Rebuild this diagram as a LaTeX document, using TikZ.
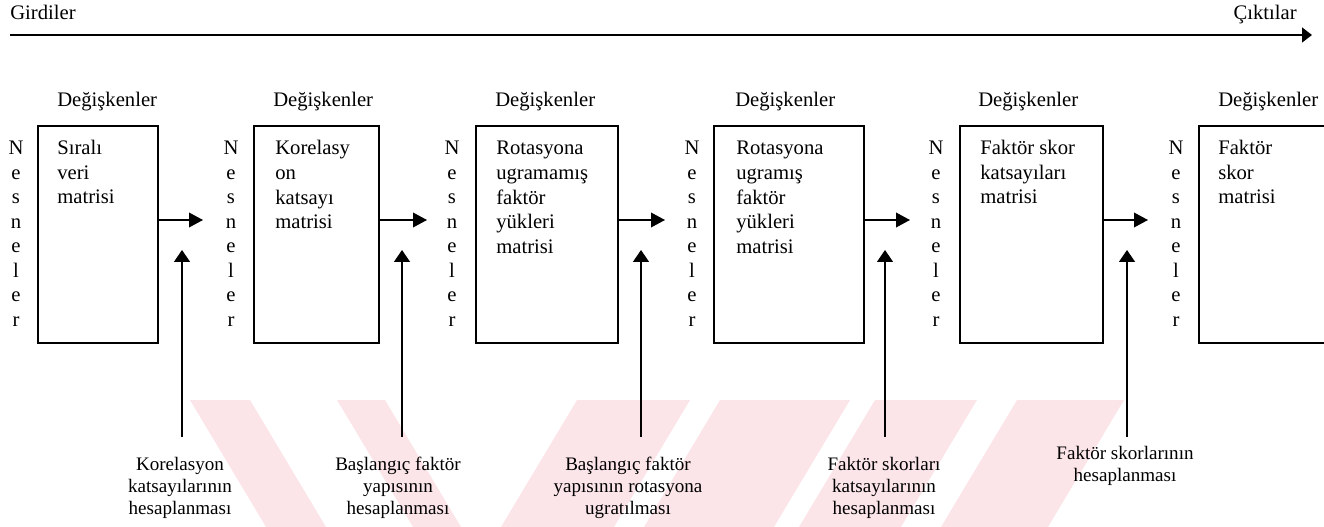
\documentclass[tikz,border=0pt]{standalone}
\usepackage{fontspec}
\setmainfont{Liberation Serif}
\usetikzlibrary{arrows.meta,calc}
\definecolor{wm}{RGB}{252,229,233}
\tikzset{
  txt/.style={inner sep=0pt, font=\fontsize{15.5pt}{18.4pt}\selectfont},
  lbl/.style={txt, anchor=base west},
  boxtxt/.style={txt, anchor=base west, align=left},
  nes/.style={txt, anchor=base, align=center},
  bot/.style={inner sep=0pt, anchor=base, align=center, font=\fontsize{14.3pt}{16.5pt}\selectfont},
  mbox/.style={draw, line width=1.3pt, anchor=north west, inner sep=0pt, minimum height=162.75pt},
  arr/.style={line width=1.1pt, -{Triangle[length=10.5pt,width=11pt]}},
  varr/.style={line width=1.1pt, -{Triangle[length=9pt,width=12pt]}},
  bigarr/.style={line width=2pt, -{Triangle[length=7.5pt,width=11pt]}},
  wmark/.style={fill=wm, draw=none}
}
\begin{document}
\begin{tikzpicture}[x=0.75pt,y=-0.75pt]
\useasboundingbox (0,0) rectangle (1324,527);
\clip (0,0) rectangle (1324,527);
% watermark
\fill[wmark] (190,400) -- (250,400) -- (326,527) -- (266,527) -- cycle;
\fill[wmark] (337,400) -- (385,400) -- (461,527) -- (413,527) -- cycle;
\fill[wmark] (577,400) -- (690,400) -- (614,527) -- (501,527) -- cycle;
\fill[wmark] (720,400) -- (850,400) -- (774,527) -- (644,527) -- cycle;
\fill[wmark] (875,400) -- (977,400) -- (901,527) -- (799,527) -- cycle;
\fill[wmark] (1017,400) -- (1124,400) -- (1048,527) -- (941,527) -- cycle;

% top axis
\node[lbl] (gir) at (10,20) {Girdiler};
\node[txt, anchor=base east] (cik) at (1297,20) {Çıktılar};
\coordinate (ts) at (10,35);
\coordinate (te) at (1312,35);
\draw[bigarr] (ts) -- (te);

% boxes
\node[mbox, minimum width=90pt] (b1) at (37,125) {};
\node[mbox, minimum width=93.75pt] (b2) at (253,125) {};
\node[mbox, minimum width=106.5pt] (b3) at (475,125) {};
\node[mbox, minimum width=112.5pt] (b4) at (713,125) {};
\node[mbox, minimum width=107.25pt] (b5) at (959,125) {};
\node[mbox, minimum width=112.5pt] (b6) at (1198,125) {};

% column labels
\node[lbl] (d1) at (57,107) {Değişkenler};
\node[lbl] (d2) at (273,107) {Değişkenler};
\node[lbl] (d3) at (495,107) {Değişkenler};
\node[lbl] (d4) at (735,107) {Değişkenler};
\node[lbl] (d5) at (978,107) {Değişkenler};
\node[lbl] (d6) at (1218,107) {Değişkenler};

% row labels (base anchor = last line)
\node[nes] (n1) at (16,326.5) {N\\e\\s\\n\\e\\l\\e\\r};
\node[nes] (n2) at (231,326.5) {N\\e\\s\\n\\e\\l\\e\\r};
\node[nes] (n3) at (452,326.5) {N\\e\\s\\n\\e\\l\\e\\r};
\node[nes] (n4) at (692,326.5) {N\\e\\s\\n\\e\\l\\e\\r};
\node[nes] (n5) at (936,326.5) {N\\e\\s\\n\\e\\l\\e\\r};
\node[nes] (n6) at (1176,326.5) {N\\e\\s\\n\\e\\l\\e\\r};

% box contents (base anchor = last line)
\node[boxtxt] (t1) at (57,204) {Sıralı\\veri\\matrisi};
\node[boxtxt] (t2) at (275,228.6) {Korelasy\\on\\katsayı\\matrisi};
\node[boxtxt] (t3) at (496,253.1) {Rotasyona\\ugramamış\\faktör\\yükleri\\matrisi};
\node[boxtxt] (t4) at (736,253.1) {Rotasyona\\ugramış\\faktör\\yükleri\\matrisi};
\node[boxtxt] (t5) at (980,204) {Faktör skor\\katsayıları\\matrisi};
\node[boxtxt] (t6) at (1218,204) {Faktör\\skor\\matrisi};

% horizontal arrows
\coordinate (h1) at (203,220);
\coordinate (h2) at (427,220);
\coordinate (h3) at (665,220);
\coordinate (h4) at (910,220);
\coordinate (h5) at (1148,220);
\draw[arr] (b1.east |- h1) -- (h1);
\draw[arr] (b2.east |- h2) -- (h2);
\draw[arr] (b3.east |- h3) -- (h3);
\draw[arr] (b4.east |- h4) -- (h4);
\draw[arr] (b5.east |- h5) -- (h5);

% bottom labels (base anchor = last line)
\node[bot] (l1) at (180,514) {Korelasyon\\katsayılarının\\hesaplanması};
\node[bot] (l2) at (398,514) {Başlangıç faktör\\yapısının\\hesaplanması};
\node[bot] (l3) at (628,514) {Başlangıç faktör\\yapısının rotasyona\\ugratılması};
\node[bot] (l4) at (884,514) {Faktör skorları\\katsayılarının\\hesaplanması};
\node[bot] (l5) at (1125,481) {Faktör skorlarının\\hesaplanması};

% vertical arrows
\coordinate (v1) at (182,250); \coordinate (w1) at (182,437);
\coordinate (v2) at (402,250); \coordinate (w2) at (402,437);
\coordinate (v3) at (641,250); \coordinate (w3) at (641,437);
\coordinate (v4) at (885,250); \coordinate (w4) at (885,437);
\coordinate (v5) at (1127,250); \coordinate (w5) at (1127,437);
\draw[varr] (w1) -- (v1);
\draw[varr] (w2) -- (v2);
\draw[varr] (w3) -- (v3);
\draw[varr] (w4) -- (v4);
\draw[varr] (w5) -- (v5);
\end{tikzpicture}
\end{document}
